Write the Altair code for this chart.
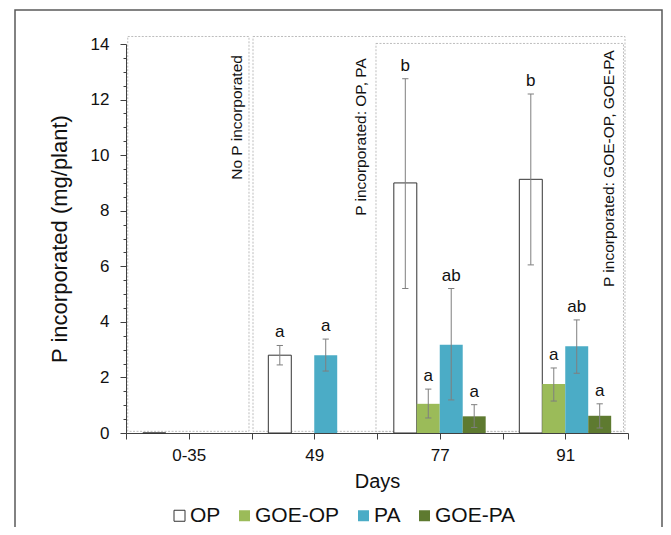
import altair as alt
import pandas as pd

# ---------------- data ----------------
days = ["0-35", "49", "77", "91"]
treatments = ["OP", "GOE-OP", "PA", "GOE-PA"]

op_mean = [0.0, 2.80, 9.00, 9.13]
op_low = [None, 2.45, 5.20, 6.05]
op_high = [None, 3.15, 12.75, 12.20]
op_letter = [None, "a", "b", "b"]

goe_op_mean = [0.0, None, 1.05, 1.76]
goe_op_low = [None, None, 0.54, 1.15]
goe_op_high = [None, None, 1.58, 2.34]
goe_op_letter = [None, None, "a", "a"]

pa_mean = [0.0, 2.80, 3.18, 3.12]
pa_low = [None, 2.23, 1.19, 2.15]
pa_high = [None, 3.38, 5.20, 4.07]
pa_letter = [None, "a", "ab", "ab"]

goe_pa_mean = [0.0, None, 0.60, 0.62]
goe_pa_low = [None, None, 0.20, 0.18]
goe_pa_high = [None, None, 1.02, 1.05]
goe_pa_letter = [None, None, "a", "a"]

# annotation boxes (data units: x in day-bands, y in mg/plant)
box_left = [0.014, 1.012, 1.992]
box_right = [0.980, 3.976, 3.964]
box_bottom = [0.06, 0.06, 0.05]
box_top = [14.27, 14.27, 14.02]

note_text = ["No P incorporated", "P incorporated: OP, PA", "P incorporated: GOE-OP, GOE-PA"]
note_x = [0.884, 1.873, 3.849]
note_y = [13.60, 13.49, 13.78]

x_ticks = [0, 0.5, 1, 1.5, 2, 2.5, 3, 3.5, 4]
y_ticks = [0, 0.5, 1, 1.5, 2, 2.5, 3, 3.5, 4, 4.5, 5, 5.5, 6, 6.5, 7, 7.5,
           8, 8.5, 9, 9.5, 10, 10.5, 11, 11.5, 12, 12.5, 13, 13.5, 14]

fill_colors = ["#FFFFFF", "#9BBB59", "#4BACC6", "#5E7A30"]
stroke_colors = ["#333333", "transparent", "transparent", "transparent"]

# ---------------- tables ----------------
series = {
    "OP": (op_mean, op_low, op_high, op_letter),
    "GOE-OP": (goe_op_mean, goe_op_low, goe_op_high, goe_op_letter),
    "PA": (pa_mean, pa_low, pa_high, pa_letter),
    "GOE-PA": (goe_pa_mean, goe_pa_low, goe_pa_high, goe_pa_letter),
}
rows = []
for k, t in enumerate(treatments):
    m, lo, hi, let = series[t]
    for i, d in enumerate(days):
        if m[i] is None:
            continue
        rows.append(dict(day=d, idx=i, k=k, treatment=t, mean=m[i],
                         low=lo[i], high=hi[i], letter=let[i]))
df = pd.DataFrame(rows)

boxes = pd.DataFrame(dict(x0=box_left, x1=box_right, y0=box_bottom, y1=box_top))
notes = pd.DataFrame(dict(text=note_text, x=note_x, y=note_y))

BAR_W = 0.183
CAP = 0.025
FONT = "Liberation Sans"

label_expr = " : ".join(f"datum.value == {i + 0.5} ? '{d}'" for i, d in enumerate(days)) + " : ''"

xscale = alt.Scale(domain=[0, 4], nice=False, zero=False)
yscale = alt.Scale(domain=[0, 14], nice=False)

x_axis = alt.Axis(values=x_ticks, labelExpr=label_expr, title="Days", grid=False,
                  tickSize=6, labelPadding=8, titlePadding=8, labelFontSize=17,
                  titleFontSize=20, labelOverlap=False, labelFlush=False)
y_axis = alt.Axis(values=y_ticks,
                  labelExpr="datum.value % 2 == 0 ? format(datum.value, 'd') : ''",
                  title="P incorporated (mg/plant)", grid=False,
                  tickSize={"condition": {"test": "datum.value % 2 != 0", "value": 3}, "value": 6},
                  labelPadding=11, titlePadding=19, labelFontSize=17, titleFontSize=22,
                  labelOverlap=False, labelFlush=False)


def X(field):
    return alt.X(field, scale=xscale, axis=x_axis)


def Y(field):
    return alt.Y(field, scale=yscale, axis=y_axis)


legend = alt.Legend(orient="none", legendX=43, legendY=461, direction="horizontal",
                    symbolType="square", symbolSize=121, symbolStrokeWidth=1,
                    labelFontSize=21, labelFont=FONT, labelColor="#111111",
                    labelOffset=0, columnPadding=13, title=None)

base = alt.Chart(df).transform_calculate(
    x0=f"datum.idx + 0.5 + (datum.k - 2) * {BAR_W}",
).transform_calculate(
    x1=f"datum.x0 + {BAR_W}",
    xc=f"datum.x0 + {BAR_W / 2}",
).transform_calculate(
    c0=f"datum.xc - {CAP}",
    c1=f"datum.xc + {CAP}",
)

box_layer = alt.Chart(boxes).mark_rect(
    fillOpacity=0, stroke="#BDBDBD", strokeWidth=1, strokeDash=[2, 1.5]
).encode(
    x=X("x0:Q"), x2="x1:Q", y=Y("y0:Q"), y2="y1:Q",
)

bars = base.mark_rect(strokeWidth=1).encode(
    x=X("x0:Q"),
    x2="x1:Q",
    y=Y("mean:Q"),
    y2=alt.datum(0),
    fill=alt.Fill("treatment:N", scale=alt.Scale(domain=treatments, range=fill_colors),
                  legend=legend),
    stroke=alt.Stroke("treatment:N", scale=alt.Scale(domain=treatments, range=stroke_colors),
                      legend=legend),
)

has_err = base.transform_filter("isValid(datum.low)")
err = has_err.mark_rule(color="#7F7F7F", strokeWidth=1).encode(
    x=X("xc:Q"), y=Y("low:Q"), y2="high:Q",
)
cap_hi = has_err.mark_rule(color="#7F7F7F", strokeWidth=1).encode(
    x=X("c0:Q"), x2="c1:Q", y=Y("high:Q"),
)
cap_lo = has_err.mark_rule(color="#7F7F7F", strokeWidth=1).encode(
    x=X("c0:Q"), x2="c1:Q", y=Y("low:Q"),
)

letters = base.transform_filter("isValid(datum.letter)").mark_text(
    font=FONT, fontSize=17, color="#111111", baseline="alphabetic", dy=-8
).encode(
    x=X("xc:Q"), y=Y("high:Q"), text="letter:N",
)

note_layer = alt.Chart(notes).mark_text(
    font=FONT, fontSize=15.5, color="#111111", angle=270, align="right", baseline="middle"
).encode(
    x=X("x:Q"), y=Y("y:Q"), text="text:N",
)

frame = alt.Chart(boxes).transform_filter("datum.x0 < 0.5").mark_rect(
    fillOpacity=0, stroke="#595959", strokeWidth=1.5
).encode(
    x=alt.value(-111), x2=alt.value(536), y=alt.value(-34), y2=alt.value(560),
)

chart = alt.layer(
    box_layer, bars, err, cap_hi, cap_lo, letters, note_layer, frame
).properties(
    width=502, height=389,
    autosize=alt.AutoSizeParams(type="none"),
    padding={"left": 118, "top": 36, "right": 35, "bottom": 94},
).configure_axis(
    domainColor="#404040", tickColor="#404040", domainWidth=1, tickWidth=1,
    labelFont=FONT, titleFont=FONT, labelColor="#111111", titleColor="#111111",
    titleFontWeight="normal",
).configure_view(stroke=None)

chart.save("out.html", embed_options={"renderer": "svg", "actions": False})
